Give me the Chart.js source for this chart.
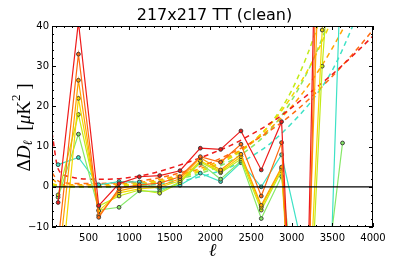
<!DOCTYPE html>
<html>
<head>
<meta charset="utf-8">
<script src="https://cdn.jsdelivr.net/npm/chart.js@4.4.1/dist/chart.umd.min.js"></script>
<style>
html,body{margin:0;padding:0;background:#fff;}
canvas{display:block;}
</style>
</head>
<body>
<canvas id="c" width="415" height="260"></canvas>
<script>
// ---- data ----
const titleText = "217x217 TT (clean)";
const bins = [125, 375, 625, 875, 1125, 1375, 1625, 1875, 2125, 2375, 2625, 2875, 3125, 3375, 3625];
const red         = [-3.9, 41,   -4.7,  0.8,  2.5,  2.8, 4.0, 9.6, 9.3, 13.9,  4.2, 16.2, -90,   140,  null];
const orangeRed   = [-14,  33,   -7.6, -0.4,  0.5,  0.9, 2.5, 7.5, 6.1, 10.6, -2.3, 11.0, -100,  120,  null];
const orange      = [-20,  26.5, -7.1, -1.0,  0.1,  0.2, 2.0, 7.2, 4.2,  8.1, -4.6,  4.9, -70,   80,   null];
const yellow      = [-30,  22,   -6.0, -1.5, -0.5, -0.1, 1.5, 6.5, 3.8,  7.5, -5.1,  4.5, -67,   39,   90];
const yellowGreen = [-2.0, 18,   -4.8, -2.3, -0.8, -1.6, 1.0, 6.2, 3.5,  6.9, -5.8,  4.0, -75,   30,   100];
const green       = [-2.6, 13.1, -5.8, -5.1, -1.0, -1.2, 1.2, 5.9, 1.9,  6.4, -7.9,  2.6, -40,  -31,   10.9];
const cyan        = [5.5,  7.3,   0.5,  1.3,  1.2, -0.6, 0.4, 3.4, 1.3,  6.0,  0.0,  8.0, -14.5, -83.5, 67];

// fitted (dashed) curves, sampled by eye
const fitL = [50, 125, 250, 500, 750, 1000, 1250, 1500, 1750, 2000, 2250, 2500, 2750, 3000, 3250, 3500, 3750, 4000];
const fitRed         = [13.5, 4.5, 2.6, 1.9, 1.9, 2.3, 3.2, 4.6, 6.3, 8.2, 10.3, 13.0, 16.0, 19.7, 23.8, 28.0, 32.6, 37.5];
const fitOrangeRed   = [3.5, 1.5, 0.9, 0.8, 0.9, 1.2, 1.8, 2.8, 4.2, 6.0, 8.3, 11.0, 14.2, 18.0, 22.5, 27.5, 33, 39];
const fitOrange      = [2.0, 0.9, 0.5, 0.5, 0.6, 0.9, 1.4, 2.3, 3.7, 5.5, 7.8, 10.8, 14.8, 20.0, 26.5, 34.5, 44, 55];
const fitYellow      = [0.8, 0.4, 0.2, 0.2, 0.3, 0.6, 1.1, 2.0, 3.3, 5.0, 7.5, 11, 15.8, 22.5, 31, 42, 56, 72];
const fitYellowGreen = [0.5, 0.3, 0.1, 0.0, 0.1, 0.4, 0.9, 1.8, 3.0, 4.8, 7.2, 10.8, 16.0, 24, 36, 52, 72, 97];
const fitGreen       = [0.4, 0.2, 0.0, -0.1, 0.0, 0.3, 0.7, 1.5, 2.6, 4.2, 6.5, 9.8, 14.5, 21.5, 31, 44, 61, 82];
const fitCyan        = [0.3, 0.1, 0.0, -0.1, -0.1, 0.1, 0.4, 1.0, 1.9, 3.2, 5.0, 7.5, 11.0, 15.8, 21.5, 29, 40, 53];

const xTicks = [500, 1000, 1500, 2000, 2500, 3000, 3500, 4000];
const yTicks = [-10, 0, 10, 20, 30, 40];
const zeroLine = [0, 0];
const zeroLineL = [50, 4000];

// ---- styles ----
const C = {
  red: '#ee1a1a', orangeRed: '#ff6a10', orange: '#ffa400', yellow: '#f2d800',
  yellowGreen: '#c2ea18', green: '#86e868', cyan: '#3ee2c6'
};

function pts(xs, ys) { return xs.map((x, i) => ({x: x, y: ys[i]})); }

const solid = [
  ['red', red], ['orangeRed', orangeRed], ['orange', orange], ['yellow', yellow],
  ['yellowGreen', yellowGreen], ['green', green], ['cyan', cyan]
];
const dashed = [
  ['red', fitRed], ['orangeRed', fitOrangeRed], ['orange', fitOrange], ['yellow', fitYellow],
  ['yellowGreen', fitYellowGreen], ['green', fitGreen], ['cyan', fitCyan]
];

const datasets = [];
datasets.push({
  data: pts(zeroLineL, zeroLine), borderColor: '#000', borderWidth: 1.3,
  pointRadius: 0, tension: 0
});
solid.forEach(([k, arr]) => datasets.push({
  data: pts(bins, arr), borderColor: C[k], backgroundColor: C[k], borderWidth: 1.2,
  pointRadius: 1.9, pointBorderColor: '#333', pointBorderWidth: 0.9, pointBackgroundColor: C[k],
  tension: 0, spanGaps: false
}));
dashed.forEach(([k, arr]) => datasets.push({
  data: pts(fitL, arr), borderColor: C[k], borderWidth: 1.5, borderDash: [5, 4],
  pointRadius: 0, cubicInterpolationMode: 'monotone'
}));

const L = 52, T = 26, R = 373, B = 227;

const decor = {
  id: 'decor',
  afterDraw(chart) {
    const ctx = chart.ctx, a = chart.chartArea;
    const xs = chart.scales.x, ys = chart.scales.y;
    ctx.save();
    ctx.strokeStyle = '#000';
    ctx.lineWidth = 1;
    ctx.strokeRect(a.left + 0.5, a.top + 0.5, a.right - a.left - 1, a.bottom - a.top - 1);
    ctx.beginPath();
    for (let v = 100; v <= 4000; v += 100) {
      if (v < xs.min) continue;
      const major = v % 500 === 0;
      const len = major ? 4 : 2;
      const px = Math.round(xs.getPixelForValue(v)) + 0.5;
      ctx.moveTo(px, a.bottom); ctx.lineTo(px, a.bottom - len);
      ctx.moveTo(px, a.top); ctx.lineTo(px, a.top + len);
    }
    for (let v = -10; v <= 40; v += 2) {
      const major = v % 10 === 0;
      const len = major ? 4 : 2;
      const py = Math.round(ys.getPixelForValue(v)) + 0.5;
      ctx.moveTo(a.left, py); ctx.lineTo(a.left + len, py);
      ctx.moveTo(a.right, py); ctx.lineTo(a.right - len, py);
    }
    ctx.stroke();

    // title
    ctx.fillStyle = '#000';
    ctx.font = '16px "DejaVu Sans"';
    ctx.textAlign = 'center';
    ctx.textBaseline = 'alphabetic';
    ctx.fillText(titleText, (a.left + a.right) / 2 + 2, 20);

    // x label
    ctx.font = 'italic 18px "Liberation Serif"';
    ctx.fillText('ℓ', (a.left + a.right) / 2, 256);

    // y label with sub/superscripts
    ctx.translate(21, (a.top + a.bottom) / 2 + 1);
    ctx.rotate(-Math.PI / 2);
    const parts = [
      ['Δ', '19px "Liberation Serif"', 0],
      ['D', 'italic 19px "Liberation Serif"', 0],
      ['ℓ', 'italic 13px "Liberation Serif"', 4],
      ['  [', '19px "Liberation Serif"', 0],
      ['μ', 'italic 19px "Liberation Serif"', 0],
      ['K', '19px "Liberation Serif"', 0],
      ['2', '13px "Liberation Serif"', -8],
      [' ]', '19px "Liberation Serif"', 0]
    ];
    let w = 0;
    parts.forEach(p => { ctx.font = p[1]; w += ctx.measureText(p[0]).width; });
    let x0 = -w / 2;
    ctx.textAlign = 'left';
    ctx.textBaseline = 'middle';
    parts.forEach(p => {
      ctx.font = p[1];
      ctx.fillText(p[0], x0, 4 + p[2]);
      x0 += ctx.measureText(p[0]).width;
    });
    ctx.restore();
  }
};

new Chart(document.getElementById('c'), {
  type: 'line',
  data: { datasets: datasets },
  options: {
    responsive: false,
    animation: false,
    devicePixelRatio: 1,
    layout: { padding: { left: 0, right: 415 - R, top: T, bottom: 0 } },
    plugins: { legend: { display: false }, title: { display: false }, tooltip: { enabled: false } },
    scales: {
      x: {
        type: 'linear', min: 50, max: 4000,
        afterBuildTicks: s => { s.ticks = xTicks.map(v => ({value: v})); },
        afterFit: s => { s.height = 260 - B; },
        grid: { display: false, drawTicks: false },
        border: { display: false },
        ticks: {
          color: '#000', font: { family: 'DejaVu Sans', size: 10 }, padding: 5, maxRotation: 0,
          callback: v => String(v)
        }
      },
      y: {
        type: 'linear', min: -10, max: 40,
        afterBuildTicks: s => { s.ticks = yTicks.map(v => ({value: v})); },
        afterFit: s => { s.width = L; },
        grid: { display: false, drawTicks: false },
        border: { display: false },
        ticks: {
          color: '#000', font: { family: 'DejaVu Sans', size: 10 }, padding: 3,
          callback: v => v < 0 ? '\u2212' + Math.abs(v) : String(v)
        }
      }
    }
  },
  plugins: [decor]
});
</script>
</body>
</html>
